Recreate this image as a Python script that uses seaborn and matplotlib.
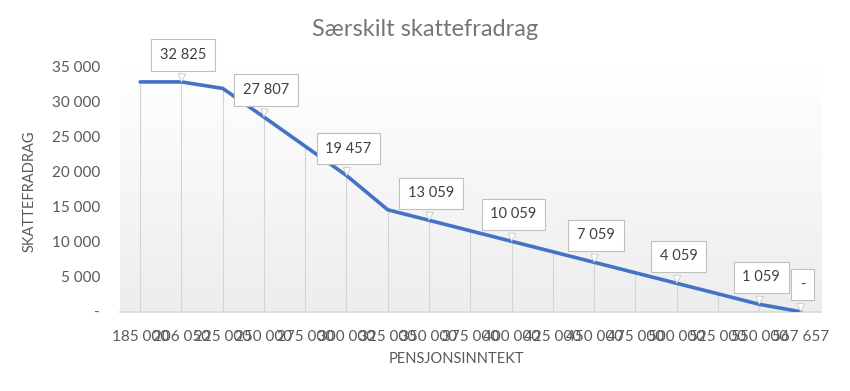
import numpy as np
import pandas as pd
import seaborn as sns
import matplotlib.pyplot as plt
from matplotlib.colors import LinearSegmentedColormap
from matplotlib.ticker import FuncFormatter

# pensjonsinntekt (kategorier) og særskilt skattefradrag
inntekt = ["185 000", "206 050", "225 000", "250 000", "275 000", "300 000",
           "325 000", "350 000", "375 000", "400 000", "425 000", "450 000",
           "475 000", "500 000", "525 000", "550 000", "567 657"]
fradrag = [32825, 32825, 31900, 27807, 23630, 19457, 14559, 13059, 11559,
           10059, 8559, 7059, 5559, 4059, 2559, 1059, 0]
# hvilke punkter som har datalabel
label_idx = [1, 3, 5, 7, 9, 11, 13, 15, 16]

df = pd.DataFrame({"pos": range(len(inntekt)), "inntekt": inntekt, "fradrag": fradrag})

sns.set_theme(style="white")
plt.rcParams["font.family"] = ["Lato", "DejaVu Sans"]

fig = plt.figure(figsize=(8.5, 3.91), dpi=100)
ax = fig.add_axes([0.1406, 0.2028, 0.8254, 0.6266])

# svak gradient i plotområdet
cmap = LinearSegmentedColormap.from_list("bg", ["#ededed", "#ffffff"])
ax.imshow(np.linspace(0, 1, 256).reshape(-1, 1), cmap=cmap, aspect="auto",
          extent=[0, 1, 0, 1], transform=ax.transAxes, origin="lower", zorder=0)

# dropplinjer
ax.vlines(df["pos"], 0, df["fradrag"], color="#d4d4d4", lw=0.8, zorder=1)

sns.lineplot(data=df, x="pos", y="fradrag", color="#4472c4", lw=2.6, ax=ax,
             zorder=3, sort=False)

def fmt(v):
    return "-" if v == 0 else f"{v:,.0f}".replace(",", " ")

for i in label_idx:
    ax.annotate(fmt(fradrag[i]), xy=(i, fradrag[i]), xytext=(2, 27),
                textcoords="offset pixels", ha="center", va="center",
                fontsize=10.5, color="#404040", zorder=5, annotation_clip=False,
                bbox=dict(boxstyle="square,pad=0.6", fc="white", ec="#bfbfbf", lw=0.8),
                arrowprops=dict(arrowstyle="wedge,tail_width=0.5,shrink_factor=0.5",
                                fc="white", ec="#c8c8c8", lw=0.6, shrinkB=0))

ax.set_xlim(-0.5, len(inntekt) - 0.5)
ax.set_ylim(0, 35000)
ax.set_xticks(df["pos"])
ax.set_xticklabels(inntekt)
ax.set_yticks(range(0, 35001, 5000))
ax.yaxis.set_major_formatter(FuncFormatter(lambda v, p: fmt(v)))
ax.tick_params(axis="both", length=0, labelsize=11, colors="#595959")
ax.tick_params(axis="y", pad=14)
ax.tick_params(axis="x", pad=13)

for s in ["top", "right", "left"]:
    ax.spines[s].set_visible(False)
ax.spines["bottom"].set_color("#d9d9d9")
ax.grid(False)

ax.set_xlabel("PENSJONSINNTEKT", fontsize=10.5, color="#595959")
ax.set_ylabel("SKATTEFRADRAG", fontsize=10.5, color="#595959")
ax.xaxis.set_label_coords(0.48, -0.165)
ax.yaxis.set_label_coords(-0.118, 0.49)

fig.text(0.5, 0.925, "Særskilt skattefradrag", ha="center", va="center",
         fontsize=17, color="#767676")

fig.savefig("out.png", dpi=100, facecolor="white")
